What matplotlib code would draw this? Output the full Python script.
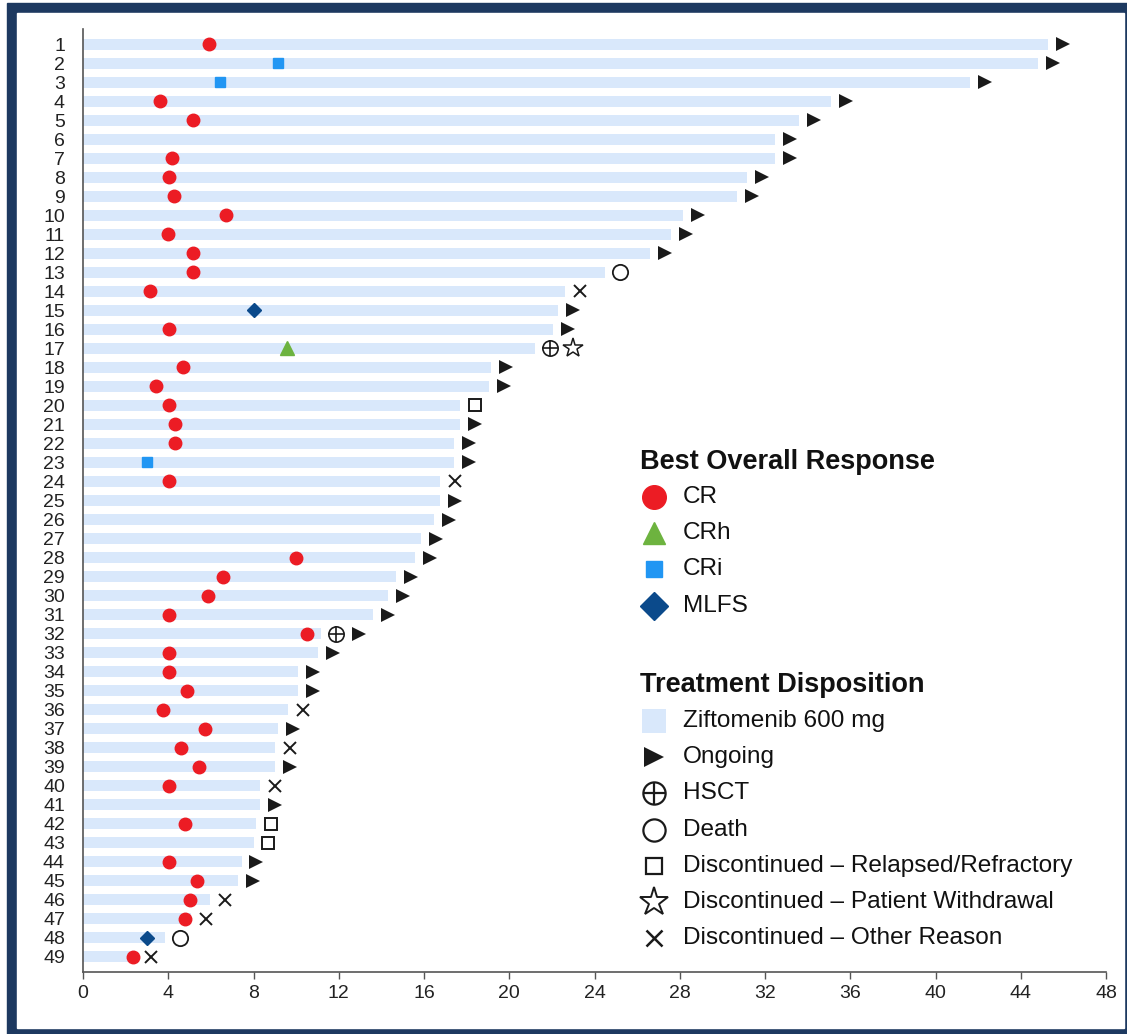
import numpy as np
import matplotlib
matplotlib.use("Agg")
import matplotlib.pyplot as plt
from matplotlib.patches import Rectangle
from matplotlib.lines import Line2D

plt.rcParams['font.family'] = ['Liberation Sans', 'DejaVu Sans']

# months on treatment, patients 1..49 (top to bottom)
duration = [45.3, 44.8, 41.6, 35.1, 33.6, 32.45, 32.45, 31.15, 30.7, 28.15,
            27.6, 26.6, 24.5, 22.6, 22.3, 22.05, 21.2, 19.15, 19.05, 17.7,
            17.7, 17.4, 17.4, 16.75, 16.75, 16.45, 15.86, 15.6, 14.7, 14.3,
            13.6, 11.15, 11.03, 10.1, 10.1, 9.6, 9.16, 9.0, 9.0, 8.3,
            8.3, 8.1, 8.0, 7.44, 7.27, 5.98, 5.08, 3.85, 2.5]

# best overall response and time it was reached (None = no response)
response = ['CR', 'CRi', 'CRi', 'CR', 'CR', None, 'CR', 'CR', 'CR', 'CR',
            'CR', 'CR', 'CR', 'CR', 'MLFS', 'CR', 'CRh', 'CR', 'CR', 'CR',
            'CR', 'CR', 'CRi', 'CR', None, None, None, 'CR', 'CR', 'CR',
            'CR', 'CR', 'CR', 'CR', 'CR', 'CR', 'CR', 'CR', 'CR', 'CR',
            None, 'CR', None, 'CR', 'CR', 'CR', 'CR', 'MLFS', 'CR']
response_time = [5.9, 9.17, 6.43, 3.6, 5.18, np.nan, 4.16, 4.02, 4.28, 6.73,
                 4.0, 5.16, 5.16, 3.16, 8.01, 4.03, 9.57, 4.71, 3.42, 4.03,
                 4.3, 4.3, 3.02, 4.03, np.nan, np.nan, np.nan, 10.0, 6.57, 5.87,
                 4.03, 10.5, 4.03, 4.03, 4.86, 3.74, 5.73, 4.6, 5.43, 4.03,
                 np.nan, 4.78, np.nan, 4.03, 5.33, 5.03, 4.78, 3.02, 2.36]

# treatment disposition at data cut-off
disposition = ['Ongoing'] * 12 + [
    'Death', 'Other', 'Ongoing', 'Ongoing', 'Withdrawal', 'Ongoing', 'Ongoing',
    'Relapsed', 'Ongoing', 'Ongoing', 'Ongoing', 'Other', 'Ongoing', 'Ongoing',
    'Ongoing', 'Ongoing', 'Ongoing', 'Ongoing', 'Ongoing', 'Ongoing', 'Ongoing',
    'Ongoing', 'Ongoing', 'Other', 'Ongoing', 'Other', 'Ongoing', 'Other',
    'Ongoing', 'Relapsed', 'Relapsed', 'Ongoing', 'Ongoing', 'Other', 'Other',
    'Death', 'Other']
hsct = [17, 32]

patients = np.arange(1, len(duration) + 1)
xticks = np.arange(0, 49, 4)

BAR = '#d9e8fb'
NAVY = '#1d3960'
INK = '#1a1a1a'

resp_style = {
    'CR':   dict(marker='o', color='#ec1c24', ms=9),
    'CRh':  dict(marker='^', color='#6db33f', ms=10),
    'CRi':  dict(marker='s', color='#2196f3', ms=7.5),
    'MLFS': dict(marker='D', color='#0b4a8b', ms=7.5),
}
disp_style = {
    'Ongoing':    dict(marker='>', color=INK, ms=10.5, mew=0),
    'Death':      dict(marker='o', mfc='none', mec=INK, ms=11, mew=1.3),
    'Relapsed':   dict(marker='s', mfc='none', mec=INK, ms=9, mew=1.4),
    'Withdrawal': dict(marker='*', mfc='none', mec=INK, ms=15, mew=1.1),
    'Other':      dict(marker='x', color=INK, ms=8, mew=1.4),
}

W, H = 1127, 1034
fig = plt.figure(figsize=(W / 100, H / 100), dpi=100)

def px(x, y):
    return x / W, 1 - y / H

# navy frame
fig.patches.append(Rectangle(px(7, 1034), (W - 7) / W, 1031 / H,
                             transform=fig.transFigure, color=NAVY, zorder=-3))
fig.patches.append(Rectangle(px(17, 1028), (1124 - 17) / W, 1015 / H,
                             transform=fig.transFigure, color='white', zorder=-2))

ax = fig.add_axes([83 / W, 62 / H, 1023 / W, 943 / H])
ax.patch.set_alpha(0)

ax.barh(patients, duration, height=0.6, color=BAR, zorder=1)

for y, r, t in zip(patients, response, response_time):
    if r is not None:
        s = resp_style[r]
        ax.plot(t, y, ls='none', marker=s['marker'], ms=s['ms'],
                color=s['color'], mec=s['color'], zorder=3)

for y, d, end in zip(patients, disposition, duration):
    x = end + 0.7
    if y in hsct:
        ax.plot(x, y, ls='none', marker='o', mfc='none', mec=INK,
                ms=11, mew=1.2, zorder=3)
        ax.plot(x, y, ls='none', marker='+', color=INK, ms=11,
                mew=1.2, zorder=3)
        x = end + 1.8
    ax.plot(x, y, ls='none', zorder=3, clip_on=False, **disp_style[d])

ax.set_xlim(0, 48)
ax.set_ylim(49.8, 0.2)
ax.set_xticks(xticks)
ax.set_yticks(patients)
ax.set_yticklabels([str(p) for p in patients])
ax.tick_params(axis='y', length=0, pad=13, labelsize=14, labelcolor='#222222')
ax.tick_params(axis='x', length=5, width=1, color='#555555', pad=4,
               labelsize=14, labelcolor='#222222')
for side in ['top', 'right']:
    ax.spines[side].set_visible(False)
for side in ['left', 'bottom']:
    ax.spines[side].set_color('#555555')
    ax.spines[side].set_linewidth(1.2)

# legends drawn as rows of marker + label
def legend_block(title, title_y, rows, y0, step=36.2):
    fig.text(*px(640, title_y), title, fontsize=19.5, fontweight='bold',
             va='center', ha='left', color='#111111')
    for i, (label, kw) in enumerate(rows):
        y = y0 + i * step
        fx, fy = px(654, y)
        for k in kw:
            fig.add_artist(Line2D([fx], [fy], ls='none',
                                  transform=fig.transFigure, **k))
        fig.text(*px(683, y), label, fontsize=17.6, va='center', ha='left',
                 color='#111111')

legend_block('Best Overall Response', 462, [
    ('CR',   [dict(marker='o', color='#ec1c24', ms=17)]),
    ('CRh',  [dict(marker='^', color='#6db33f', ms=16)]),
    ('CRi',  [dict(marker='s', color='#2196f3', ms=12)]),
    ('MLFS', [dict(marker='D', color='#0b4a8b', ms=14)]),
], 497)

legend_block('Treatment Disposition', 685, [
    ('Ziftomenib 600 mg', [dict(marker='s', color=BAR, ms=17, mew=0)]),
    ('Ongoing', [dict(marker='>', color=INK, ms=14, mew=0)]),
    ('HSCT', [dict(marker='o', mfc='none', mec=INK, ms=16, mew=1.6),
              dict(marker='+', color=INK, ms=16, mew=1.6)]),
    ('Death', [dict(marker='o', mfc='none', mec=INK, ms=16, mew=1.6)]),
    ('Discontinued \u2013 Relapsed/Refractory',
     [dict(marker='s', mfc='none', mec=INK, ms=12, mew=1.6)]),
    ('Discontinued \u2013 Patient Withdrawal',
     [dict(marker='*', mfc='none', mec=INK, ms=21, mew=1.4)]),
    ('Discontinued \u2013 Other Reason',
     [dict(marker='x', color=INK, ms=12, mew=1.8)]),
], 721)

fig.savefig('out.png', dpi=100)
